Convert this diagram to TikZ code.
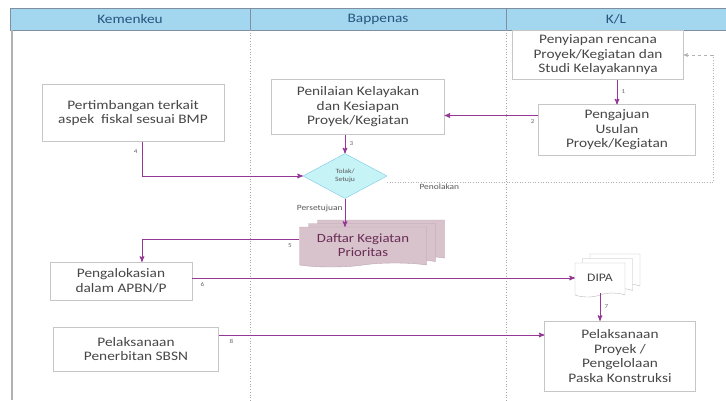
\documentclass[tikz,border=0pt]{standalone}
\usepackage{fontspec}
\setmainfont{Carlito}[FakeStretch=1.18]
\usetikzlibrary{positioning, arrows, shapes.geometric, shapes.symbols, shadows}

\definecolor{lanehead}{RGB}{163,215,240}
\definecolor{laneline}{RGB}{95,115,135}
\definecolor{lanetext}{RGB}{40,85,125}
\definecolor{flowc}{RGB}{150,55,150}
\definecolor{decfill}{RGB}{198,243,246}
\definecolor{decline}{RGB}{120,200,225}
\definecolor{docfill}{RGB}{216,194,204}
\definecolor{docline}{RGB}{188,165,176}
\definecolor{doctext}{RGB}{105,45,85}

\begin{document}
\begin{tikzpicture}[x=1pt, y=-1pt, >=stealth',
    task/.style={draw=gray!45, fill=white, align=center, inner sep=0pt, text=black!72,
        font=\fontsize{13}{14.5}\selectfont},
    decision/.style={diamond, draw=decline, fill=decfill, align=center, inner sep=0pt,
        minimum width=84pt, minimum height=45pt, text=black!65, font=\fontsize{6.5}{8}\selectfont},
    pages/.style={tape, tape bend top=none, tape bend height=4pt, align=center, inner sep=0pt},
    flow/.style={->, draw=flowc, line width=1pt},
    num/.style={text=black!60, font=\fontsize{6}{7}\selectfont, inner sep=4pt},
    note/.style={text=black!65, font=\fontsize{8}{9}\selectfont, inner sep=2pt},
    reject/.style={draw=gray!60, line width=0.6pt}]

    \useasboundingbox (0,0) rectangle (726,400);

    \draw[draw=laneline!80, fill=lanehead, line width=0.8pt] (10,8) rectangle (726,30);
    \draw[laneline!80, line width=0.6pt] (250,8) -- (250,30) (506,8) -- (506,30);
    \draw[gray!60, line width=1.2pt] (12,30) -- (12,400);
    \draw[gray!70, dotted, line width=0.7pt] (250,30) -- (250,400) (506,30) -- (506,400);
    \node[text=lanetext, font=\fontsize{13}{14}\selectfont] (kmk) at (130,19) {Kemenkeu};
    \node[text=lanetext, font=\fontsize{13}{14}\selectfont] (bpn) at (378,19) {Bappenas};
    \node[text=lanetext, font=\fontsize{13}{14}\selectfont] (kl) at (616,19) {K/L};

    \node[task, minimum width=171pt, minimum height=49pt] (pny) at (598,55) {Penyiapan rencana\\Proyek/Kegiatan dan\\Studi Kelayakannya};
    \node[task, minimum width=157pt, minimum height=51pt] (pgj) at (617,130) {Pengajuan\\Usulan\\Proyek/Kegiatan};
    \node[task, minimum width=173pt, minimum height=55pt] (pen) at (358,107) {Penilaian Kelayakan\\dan Kesiapan\\Proyek/Kegiatan};
    \node[task, minimum width=182pt, minimum height=57pt] (pert) at (133,113) {Pertimbangan terkait\\aspek~ fiskal sesuai BMP};
    \node[decision] (dec) at (345,176) {Tolak/\\Setuju};
    \node[pages, draw=docline, fill=docfill, text=doctext, minimum width=127pt, minimum height=40pt,
        font=\fontsize{12.5}{14}\selectfont,
        copy shadow={shadow xshift=18pt, shadow yshift=7pt, draw=docline, fill=docfill},
        copy shadow={shadow xshift=9pt, shadow yshift=3.5pt, draw=docline, fill=docfill}]
        (daf) at (363,245) {Daftar Kegiatan\\Prioritas};
    \node[task, minimum width=142pt, minimum height=38pt] (pal) at (121,281) {Pengalokasian\\dalam APBN/P};
    \node[task, minimum width=165pt, minimum height=44pt] (sbsn) at (136,349) {Pelaksanaan\\Penerbitan SBSN};
    \node[pages, draw=gray!55, fill=white, text=black!72, minimum width=50pt, minimum height=34pt,
        font=\fontsize{11.5}{13}\selectfont,
        copy shadow={shadow xshift=15pt, shadow yshift=9pt, draw=gray!55, fill=white},
        copy shadow={shadow xshift=7.5pt, shadow yshift=4.5pt, draw=gray!55, fill=white}]
        (dipa) at (600,278) {DIPA};
    \node[task, minimum width=151pt, minimum height=70pt] (pp) at (620,356) {Pelaksanaan\\Proyek /\\Pengelolaan\\Paska Konstruksi};

    \coordinate (turn) at (713,182);
    \coordinate (back) at (713,55);
    \path ([yshift=14.5pt]pgj.west) coordinate (s2);
    \path ([yshift=14pt]sbsn.east) coordinate (s8);
    \path ([yshift=6pt]daf.west) coordinate (s5);

    \path[->]
    (pgj.north |- pny.south) edge[flow] node[num, right] {1} (pgj.north)
    (s2) edge[flow] node[num, pos=0.06, below] {2} (s2 -| pen.east)
    (dec.north |- pen.south) edge[flow] node[num, right] {3} (dec.north)
    (dec.south) edge[flow] node[note, left, pos=0.35] {Persetujuan} (dec.south |- daf.north)
    (pal.east |- dipa.west) edge[flow] node[num, pos=0.01, below right] {6} (dipa.west)
    (dipa.south) edge[flow] node[num, right] {7} (dipa.south |- pp.north)
    (s8) edge[flow] node[num, pos=0.02, below right] {8} (s8 -| pp.west);
    \draw[flow] ([xshift=9pt]pert.south) |- node[num, pos=0.15, left] {4} (dec.west);
    \draw[flow] (s5) -| node[num, pos=0.01, below left] {5} ([xshift=21pt]pal.north);

    \draw[reject, dotted] ([yshift=-6pt]dec.east) -- node[note, below, pos=0.16] {Penolakan} (turn) -- (back);
    \draw[reject, dashed, ->] (back) -- (pny.east);
\end{tikzpicture}
\end{document}
